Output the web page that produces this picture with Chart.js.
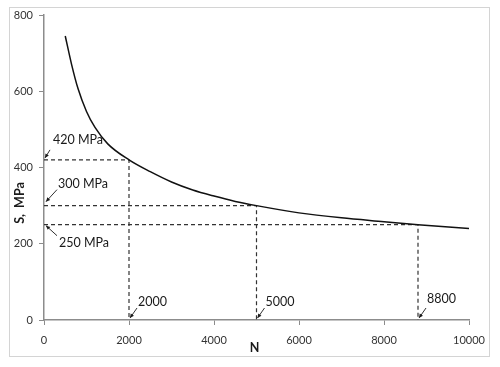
<!DOCTYPE html>
<html>
<head>
<meta charset="UTF-8">
<title>S-N curve</title>
<script src="https://cdn.jsdelivr.net/npm/chart.js@4.4.1/dist/chart.umd.min.js"></script>
<style>
    body { margin: 0; background: #fff; }
    .wrap { position: relative; width: 500px; height: 367px; }
    .frame {
        position: absolute; left: 9px; top: 7px; width: 481px; height: 350px;
        border: 1px solid #d4d4d4; box-sizing: border-box;
    }
    canvas { position: absolute; left: 0; top: 0; }
</style>
</head>
<body>
<div class="wrap">
    <div class="frame"></div>
    <canvas id="sn" width="500" height="367"></canvas>
</div>
<script>
// curve
const nValues = [500, 650, 800, 1000, 1200, 1500, 2000, 2500, 3000, 3500, 4000, 4500, 5000, 6000, 7000, 8000, 8800, 10000];
const sValues = [745, 670, 607, 547, 505, 462, 420, 389, 362, 341, 325, 311, 300, 281, 268, 258, 250, 240];

// marked points
const markN = [2000, 5000, 8800];
const markS = [420, 300, 250];
const sLabels = ['420 MPa', '300 MPa', '250 MPa'];
const nLabels = ['2000', '5000', '8800'];

const xTicks = [0, 2000, 4000, 6000, 8000, 10000];
const yTicks = [0, 200, 400, 600, 800];

const FONT = 'Lato, "Open Sans", sans-serif';
const AXIS = '#8c8c8c';

const curve = nValues.map((n, i) => ({ x: n, y: sValues[i] }));
const guides = markN.map((n, i) => ({
    type: 'line',
    data: [{ x: 0, y: markS[i] }, { x: n, y: markS[i] }, { x: n, y: 0 }],
    borderColor: '#333',
    borderWidth: 1.2,
    borderDash: [4, 3],
    pointRadius: 0,
    tension: 0
}));

function arrow(ctx, x1, y1, x2, y2) {
    ctx.beginPath();
    ctx.moveTo(x1, y1);
    ctx.lineTo(x2, y2);
    ctx.stroke();
    const a = Math.atan2(y2 - y1, x2 - x1);
    const L = 4.5;
    ctx.beginPath();
    ctx.moveTo(x2, y2);
    ctx.lineTo(x2 - L * Math.cos(a - 0.45), y2 - L * Math.sin(a - 0.45));
    ctx.lineTo(x2 - L * Math.cos(a + 0.45), y2 - L * Math.sin(a + 0.45));
    ctx.closePath();
    ctx.fill();
}

const notes = {
    id: 'notes',
    afterDraw(chart) {
        const ctx = chart.ctx;
        const xs = chart.scales.x, ys = chart.scales.y;
        const x0 = xs.getPixelForValue(0), yb = ys.getPixelForValue(0);
        ctx.save();
        ctx.fillStyle = '#1a1a1a';
        ctx.strokeStyle = '#1a1a1a';
        ctx.lineWidth = 0.9;
        ctx.font = '12.5px ' + FONT;
        ctx.textBaseline = 'middle';
        ctx.textAlign = 'left';

        // stress labels
        const sOff = [[9, -20, 6, -10, 1, -2], [14, -22, 13, -16, 2, -4], [15, 18, 13, 11, 2, 1]];
        markS.forEach((s, i) => {
            const y = ys.getPixelForValue(s);
            const o = sOff[i];
            ctx.fillText(sLabels[i], x0 + o[0], y + o[1]);
            arrow(ctx, x0 + o[2], y + o[3], x0 + o[4], y + o[5]);
        });

        // cycle labels
        markN.forEach((n, i) => {
            const x = xs.getPixelForValue(n);
            ctx.fillText(nLabels[i], x + 9, yb - (i === 2 ? 21 : 18));
            arrow(ctx, x + 8, yb - 12, x + 1, yb - 2);
        });

        // axis titles
        ctx.font = 'bold 12.5px ' + FONT;
        ctx.textAlign = 'center';
        ctx.fillText('N', xs.getPixelForValue(5000) - 2, yb + 28);
        ctx.translate(20, ys.getPixelForValue(307));
        ctx.rotate(-Math.PI / 2);
        ctx.fillText('S,  MPa', 0, 0);
        ctx.restore();
    }
};

new Chart(document.getElementById('sn'), {
    type: 'scatter',
    data: {
        datasets: [{
            type: 'line',
            data: curve,
            borderColor: '#111',
            borderWidth: 1.5,
            pointRadius: 0,
            cubicInterpolationMode: 'monotone'
        }].concat(guides)
    },
    options: {
        responsive: false,
        animation: false,
        layout: { padding: { left: 0, top: 15, right: 31, bottom: 0 } },
        plugins: { legend: { display: false }, tooltip: { enabled: false } },
        scales: {
            x: {
                type: 'linear', min: 0, max: 10000,
                afterBuildTicks: s => { s.ticks = xTicks.map(v => ({ value: v })); },
                afterFit: s => { s.height = 47; },
                ticks: { color: '#333', font: { family: FONT, size: 11 }, padding: 9, maxRotation: 0, callback: v => String(v) },
                grid: { drawOnChartArea: false, tickLength: 5, tickColor: AXIS },
                border: { color: AXIS, width: 1.5 }
            },
            y: {
                min: 0, max: 800,
                afterBuildTicks: s => { s.ticks = yTicks.map(v => ({ value: v })); },
                afterFit: s => { s.width = 44; },
                ticks: { color: '#333', font: { family: FONT, size: 11 }, padding: 6, callback: v => String(v) },
                grid: { drawOnChartArea: false, tickLength: 5, tickColor: AXIS },
                border: { color: AXIS, width: 1.5 }
            }
        }
    },
    plugins: [notes]
});
</script>
</body>
</html>
